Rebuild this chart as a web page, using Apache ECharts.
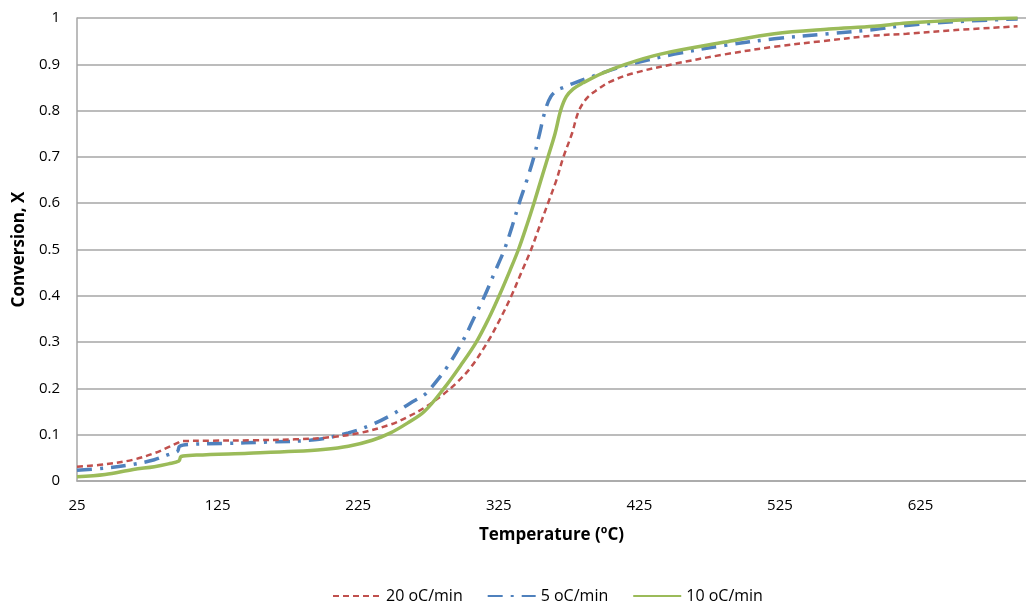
<!DOCTYPE html>
<html>
<head>
<meta charset="utf-8">
<script src="https://cdn.jsdelivr.net/npm/echarts@6/dist/echarts.min.js"></script>
<style>
  html, body { margin: 0; padding: 0; background: #ffffff; }
  #chart { width: 1026px; height: 606px; }
</style>
</head>
<body>
<div id="chart"></div>
<script>
// Conversion curves at three heating rates
const seriesNames = ['20 oC/min', '5 oC/min', '10 oC/min'];

const temp20 = [25, 45, 65, 80, 90, 97, 99, 120, 150, 180, 200, 225, 248, 260, 272, 285, 295, 305, 317, 326, 334, 341, 348, 354, 360, 366, 371, 377, 382, 388, 395, 404, 420, 450, 485, 521, 555, 592, 615, 650, 694];
const conv20 = [0.031, 0.036, 0.046, 0.060, 0.073, 0.083, 0.086, 0.087, 0.088, 0.090, 0.093, 0.103, 0.122, 0.138, 0.158, 0.186, 0.212, 0.245, 0.300, 0.350, 0.400, 0.450, 0.500, 0.550, 0.600, 0.650, 0.700, 0.750, 0.800, 0.828, 0.845, 0.862, 0.880, 0.901, 0.921, 0.938, 0.950, 0.962, 0.966, 0.974, 0.982];

const temp5 = [25, 45, 65, 80, 90, 96.5, 98, 105, 130, 160, 194, 218, 235, 250, 262, 272, 276.5, 288, 299, 307, 315, 322, 329, 334.5, 339.5, 345, 350, 354, 358, 362, 367, 371, 379, 390, 404, 425, 450, 486, 521, 560, 592, 615, 650, 694];
const conv5 = [0.023, 0.028, 0.036, 0.046, 0.057, 0.064, 0.075, 0.079, 0.081, 0.084, 0.089, 0.104, 0.122, 0.145, 0.168, 0.186, 0.200, 0.245, 0.300, 0.350, 0.400, 0.450, 0.500, 0.550, 0.600, 0.650, 0.700, 0.750, 0.800, 0.830, 0.845, 0.850, 0.860, 0.872, 0.887, 0.905, 0.922, 0.941, 0.955, 0.966, 0.975, 0.984, 0.992, 0.998];

const temp10 = [25, 45, 65, 80, 90, 97.5, 99, 110, 147, 180, 200, 218, 235, 248, 260, 272, 286, 298, 309, 318, 326, 333, 339, 345, 350, 355, 360, 365, 369, 373, 378, 385, 398, 415, 440, 486, 521, 560, 592, 615, 650, 680, 694];
const conv10 = [0.009, 0.014, 0.025, 0.031, 0.037, 0.043, 0.053, 0.056, 0.060, 0.064, 0.068, 0.075, 0.088, 0.104, 0.125, 0.150, 0.200, 0.250, 0.300, 0.352, 0.405, 0.455, 0.500, 0.553, 0.600, 0.650, 0.700, 0.750, 0.800, 0.830, 0.847, 0.860, 0.880, 0.900, 0.922, 0.948, 0.966, 0.976, 0.982, 0.989, 0.995, 0.999, 1.0];

const xTicks = { min: 25, max: 700, interval: 100 };
const yTicks = { min: 0, max: 1, interval: 0.1 };

const pairs = (xs, ys) => xs.map((x, i) => [x, ys[i]]);

const font = '"Open Sans", "Noto Sans", sans-serif';
const gridGray = '#a6a6a6';

const chart = echarts.init(document.getElementById('chart'), null, { renderer: 'canvas' });

chart.setOption({
  animation: false,
  backgroundColor: '#ffffff',
  textStyle: { fontFamily: font },
  grid: { left: 77, top: 18, bottom: 125, right: -7, containLabel: false },
  xAxis: {
    type: 'value',
    min: xTicks.min,
    max: xTicks.max,
    interval: xTicks.interval,
    name: 'Temperature (ºC)',
    nameLocation: 'middle',
    nameGap: 46,
    nameTextStyle: { fontFamily: font, fontSize: 17, fontWeight: 'bold', color: '#000' },
    axisLine: { show: true, lineStyle: { color: gridGray, width: 1.5 } },
    axisTick: { show: false },
    splitLine: { show: false },
    axisLabel: { fontFamily: font, fontSize: 15, color: '#000', margin: 17, showMaxLabel: false }
  },
  yAxis: {
    type: 'value',
    min: yTicks.min,
    max: yTicks.max,
    interval: yTicks.interval,
    name: 'Conversion, X',
    nameLocation: 'middle',
    nameGap: 49,
    nameRotate: 90,
    nameTextStyle: { fontFamily: font, fontSize: 17, fontWeight: 'bold', color: '#000' },
    axisLine: { show: true, lineStyle: { color: gridGray, width: 1.5 } },
    axisTick: { show: false },
    splitLine: { show: true, lineStyle: { color: gridGray, width: 1.5 } },
    axisLabel: { fontFamily: font, fontSize: 15, color: '#000', margin: 17 }
  },
  legend: {
    top: 583,
    left: 327,
    itemWidth: 48,
    itemHeight: 10,
    itemGap: 24,
    itemStyle: { opacity: 0 },
    textStyle: { fontFamily: font, fontSize: 16, color: '#000' },
    data: seriesNames
  },
  series: [
    {
      name: seriesNames[0],
      type: 'line',
      data: pairs(temp20, conv20),
      symbol: 'none',
      smooth: 0.35,
      lineStyle: { color: '#c0504d', width: 2.5, type: [6, 4] },
      itemStyle: { color: '#c0504d' },
      z: 3
    },
    {
      name: seriesNames[1],
      type: 'line',
      data: pairs(temp5, conv5),
      symbol: 'none',
      smooth: 0.35,
      lineStyle: { color: '#4f81bd', width: 3.5, type: [15, 8, 3, 8] },
      itemStyle: { color: '#4f81bd' },
      z: 2
    },
    {
      name: seriesNames[2],
      type: 'line',
      data: pairs(temp10, conv10),
      symbol: 'none',
      smooth: 0.35,
      lineStyle: { color: '#9bbb59', width: 3.5, type: 'solid' },
      itemStyle: { color: '#9bbb59' },
      z: 4
    }
  ]
});
</script>
</body>
</html>
